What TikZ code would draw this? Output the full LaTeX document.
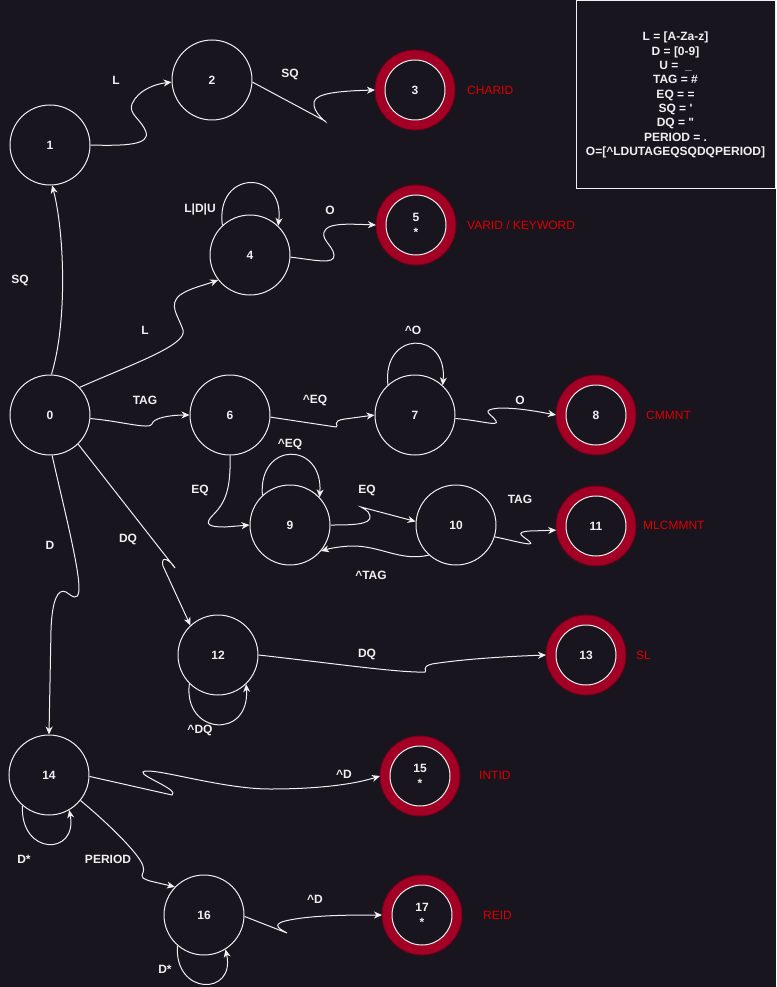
\documentclass[tikz,border=0pt]{standalone}
\usepackage{fontspec}
\newfontfamily\lab{Liberation Sans}
\usetikzlibrary{arrows.meta}
\definecolor{bg}{HTML}{18151E}
\definecolor{fg}{HTML}{F0F0F0}
\definecolor{ringred}{HTML}{A20025}
\definecolor{ringdark}{HTML}{6F0016}
\definecolor{txtred}{HTML}{DC0000}
\begin{document}
\begin{tikzpicture}[x=1pt,y=-1pt,
  st/.style={circle, draw=fg, fill=bg, line width=1pt, minimum size=80pt, inner sep=0pt,
    text=fg, font=\lab\bfseries\fontsize{12}{14.4}\selectfont},
  acc/.style={circle, draw=fg, fill=bg, line width=1pt, minimum size=60pt, inner sep=0pt,
    outer sep=10pt, align=center,
    preaction={draw=ringdark, line width=21pt},
    preaction={draw=ringred, line width=19pt},
    text=fg, font=\lab\bfseries\fontsize{12}{14.4}\selectfont},
  lbl/.style={text=fg, inner sep=0pt, font=\lab\bfseries\fontsize{12}{14.4}\selectfont},
  rlbl/.style={text=txtred, inner sep=0pt, anchor=west, font=\lab\fontsize{12}{14.4}\selectfont},
  tr/.style={draw=fg, line width=1pt, -{Stealth[length=8pt, width=7pt, inset=2.5pt]}},
]
\useasboundingbox (0,0) rectangle (776,987);
\fill[bg] (0,0) rectangle (776,987);

% legend
\node[draw=fg, line width=1pt, minimum width=199pt, minimum height=188pt, inner sep=0pt,
  align=center, text=fg, font=\lab\bfseries\fontsize{12}{14.3}\selectfont] (legend) at (675.5,95)
  {L = [A-Za-z]\\D = [0-9]\\U = \ \_\\TAG = \#\\EQ = =\\SQ = '\\DQ = "\\PERIOD = .\\O=[\textasciicircum LDUTAGEQSQDQPERIOD]};

% states
\node[st] (n0) at (50,415) {0};
\node[st] (n1) at (50,145) {1};
\node[st] (n2) at (212,80) {2};
\node[acc] (n3) at (415,90) {3};
\node[st] (n4) at (250,255) {4};
\node[acc] (n5) at (416,225) {5\\*};
\node[st] (n6) at (230,415) {6};
\node[st] (n7) at (415,415) {7};
\node[acc] (n8) at (596,415) {8};
\node[st] (n9) at (290,525) {9};
\node[st] (n10) at (456,525) {10};
\node[acc] (n11) at (596,526) {11};
\node[st] (n12) at (218,655) {12};
\node[acc] (n13) at (586,655) {13};
\node[st] (n14) at (49,775) {14};
\node[acc] (n15) at (420,776) {15\\*};
\node[st] (n16) at (204,915) {16};
\node[acc] (n17) at (422,915) {17\\*};

% token names
\node[rlbl] (t3) at (467,90) {CHARID};
\node[rlbl] (t5) at (467,225) {VARID / KEYWORD};
\node[rlbl] (t8) at (646,415) {CMMNT};
\node[rlbl] (t11) at (643,525) {MLCMMNT};
\node[rlbl] (t13) at (636,655) {SL};
\node[rlbl] (t15) at (479,775) {INTID};
\node[rlbl] (t17) at (483,915) {REID};

% edge labels
\node[lbl] (l12) at (116,80) {L};
\node[lbl] (l23) at (290,74) {SQ};
\node[lbl] (l44) at (200,209) {L|D|U};
\node[lbl] (l45) at (330,210) {O};
\node[lbl] (l01) at (20,280) {SQ};
\node[lbl] (l04) at (145,330) {L};
\node[lbl] (l06) at (145,400) {TAG};
\node[lbl] (l67) at (315,400) {\textasciicircum EQ};
\node[lbl] (l77) at (413,330) {\textasciicircum O};
\node[lbl] (l78) at (520,400) {O};
\node[lbl] (l99) at (290,444) {\textasciicircum EQ};
\node[lbl] (l69) at (200,490) {EQ};
\node[lbl] (l910) at (367,490) {EQ};
\node[lbl] (l1011) at (520,499) {TAG};
\node[lbl] (l109) at (371,575) {\textasciicircum TAG};
\node[lbl] (l014) at (50,545) {D};
\node[lbl] (l012) at (128,539) {DQ};
\node[lbl] (l1213) at (367,654) {DQ};
\node[lbl] (l1212) at (200,730) {\textasciicircum DQ};
\node[lbl] (l1415) at (344,774) {\textasciicircum D};
\node[lbl] (l1414) at (24,859) {D*};
\node[lbl] (l1416) at (108,859) {PERIOD};
\node[lbl] (l1617) at (315,899) {\textasciicircum D};
\node[lbl] (l1616) at (165,969) {D*};

% transitions
\draw[tr] (n0.88) .. controls (68,320) and (64,230) .. (n1.-87);
\draw[tr] (n1.east) .. controls (125,146) and (150,145) .. (146,132)
  .. controls (142,120) and (128,114) .. (132,104)
  .. controls (138,90) and (155,84) .. (n2.183);
\draw[tr] (n2.-3) -- (325,121) .. controls (328,124) and (312,112) .. (314,102)
  .. controls (316,93) and (340,91) .. (n3.west);
\draw[tr] (n4.133) .. controls (215,169) and (285,169) .. (n4.46);
\draw[tr] (n4.-3) .. controls (315,260) and (335,265) .. (334,255)
  .. controls (333,245) and (318,238) .. (326,229)
  .. controls (332,223) and (350,224) .. (n5.west);
\draw[tr] (n0.43) .. controls (130,365) and (188,345) .. (183,330)
  .. controls (178,315) and (168,305) .. (180,295)
  .. controls (190,288) and (205,285) .. (n4.218);
\draw[tr] (n0.-5) .. controls (120,421) and (150,430) .. (152,424)
  .. controls (153,418) and (170,415) .. (n6.west);
\draw[tr] (n6.-3) -- (336,427) .. controls (340,426) and (330,421) .. (345,419) -- (n7.west);
\draw[tr] (n7.132) .. controls (382,330) and (448,330) .. (n7.47);
\draw[tr] (n7.-5) .. controls (478,420) and (500,427) .. (496,421)
  .. controls (492,414) and (478,410) .. (500,408)
  .. controls (520,408) and (540,412) .. (n8.west);
\draw[tr] (n6.-90) .. controls (231,490) and (225,503) .. (213,515)
  .. controls (203,525) and (210,527) .. (225,527) -- (n9.west);
\draw[tr] (n9.133) .. controls (258,441) and (323,441) .. (n9.43);
\draw[tr] (n9.east) .. controls (350,525) and (372,525) .. (370,516)
  .. controls (369,510) and (362,508) .. (361,507) -- (n10.175);
\draw[tr] (n10.228) .. controls (400,562) and (380,545) .. (350,546)
  .. controls (335,547) and (328,549) .. (n9.-40);
\draw[tr] (n10.-17) .. controls (515,541) and (535,547) .. (530,542)
  .. controls (525,537) and (512,532) .. (530,531) -- (n11.186);
\draw[tr] (n0.-46) -- (175,568) .. controls (172,562) and (160,553) .. (163,566) -- (n12.133);
\draw[tr] (n0.-87) .. controls (62,500) and (80,570) .. (79,590)
  .. controls (78,602) and (72,596) .. (66,592)
  .. controls (58,588) and (52,600) .. (51,630) -- (n14.north);
\draw[tr] (n12.225) .. controls (183,735) and (250,740) .. (n12.-46);
\draw[tr] (n12.east) .. controls (330,663) and (400,673) .. (425,672)
  .. controls (428,671) and (420,667) .. (432,664)
  .. controls (470,658) and (520,656) .. (n13.west);
\draw[tr] (n14.229) .. controls (20,856) and (78,856) .. (n14.-60);
\draw[tr] (n14.-2) -- (172,795) .. controls (180,790) and (140,776) .. (143,772)
  .. controls (150,766) and (220,789) .. (270,789)
  .. controls (320,789) and (355,784) .. (n15.west);
\draw[tr] (n14.-39) .. controls (110,825) and (140,855) .. (143,866)
  .. controls (146,876) and (135,876) .. (150,881) -- (n16.136);
\draw[tr] (n16.229) .. controls (174,996) and (236,996) .. (n16.-58);
\draw[tr] (n16.-2) -- (287,933) .. controls (282,930) and (270,925) .. (285,921)
  .. controls (310,915) and (350,915) .. (n17.west);
\end{tikzpicture}
\end{document}
